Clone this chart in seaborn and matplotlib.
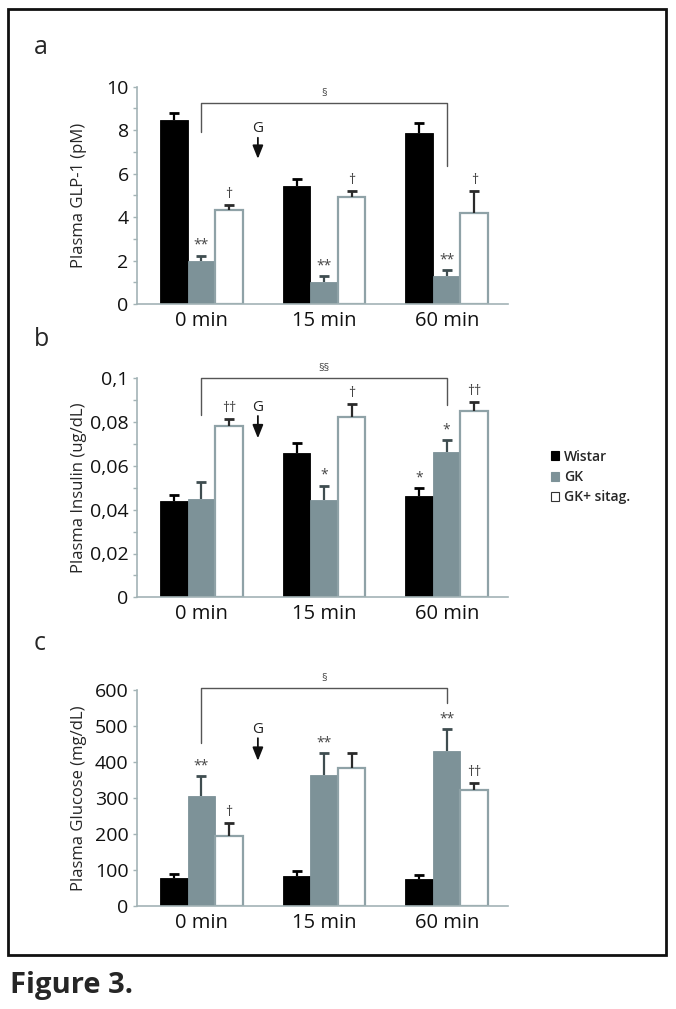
import matplotlib
matplotlib.use("Agg")
import matplotlib.pyplot as plt
from matplotlib.patches import Patch, Rectangle
from matplotlib.ticker import MultipleLocator, FixedLocator
import numpy as np
import pandas as pd
import seaborn as sns

# ---- data ---------------------------------------------------------------
times = ["0 min", "15 min", "60 min"]
groups = ["Wistar", "GK", "GK+ sitag."]

glp1_wistar = [8.47, 5.44, 7.89]
glp1_gk = [2.00, 1.01, 1.30]
glp1_sitag = [4.33, 4.91, 4.21]
glp1_err_wistar = [0.33, 0.29, 0.46]
glp1_err_gk = [0.22, 0.26, 0.27]
glp1_err_sitag = [0.23, 0.31, 1.01]

ins_wistar = [0.0440, 0.0660, 0.0464]
ins_gk = [0.0450, 0.0444, 0.0665]
ins_sitag = [0.0781, 0.0822, 0.0851]
ins_err_wistar = [0.0029, 0.0043, 0.0036]
ins_err_gk = [0.0077, 0.0066, 0.0053]
ins_err_sitag = [0.0032, 0.0062, 0.0042]

glu_wistar = [78, 83, 75]
glu_gk = [306, 364, 430]
glu_sitag = [195, 383, 322]
glu_err_wistar = [9, 13, 10]
glu_err_gk = [55, 60, 61]
glu_err_sitag = [36, 41, 20]

# significance marks: (group index, time index) -> symbol
glp1_marks = {(1, 0): "**", (2, 0): "\u2020", (1, 1): "**", (2, 1): "\u2020",
              (1, 2): "**", (2, 2): "\u2020"}
ins_marks = {(2, 0): "\u2020\u2020", (1, 1): "*", (2, 1): "\u2020",
             (0, 2): "*", (1, 2): "*", (2, 2): "\u2020\u2020"}
glu_marks = {(1, 0): "**", (2, 0): "\u2020", (1, 1): "**", (1, 2): "**",
             (2, 2): "\u2020\u2020"}

# bracket (top, left leg end, right leg end, label), G arrow (text y, start, end)
glp1_bracket = (9.25, 7.9, 6.36, "\u00a7")
ins_bracket = (0.100, 0.0832, 0.0878, "\u00a7\u00a7")
glu_bracket = (605, 453, 563, "\u00a7")
glp1_arrow = (8.07, 7.65, 6.68)
ins_arrow = (0.0868, 0.0828, 0.0726)
glu_arrow = (489, 466, 403)

# ---- style ----------------------------------------------------------------
sns.set_style("ticks")
plt.rcParams["font.family"] = ["Open Sans", "DejaVu Sans"]

SPINE = "#a3b3b6"
FILL = ["#000000", "#7d9298", "#ffffff"]
EDGE = ["#000000", "#7d9298", "#8fa2a7"]
ERRC = ["#000000", "#3f4d50", "#2a2a2a"]
MARKC = "#444444"

W, H = 676, 1009
fig = plt.figure(figsize=(W / 100, H / 100), dpi=100)

ax_left, ax_right = 137, 508


def make_ax(top_px, bottom_px):
    return fig.add_axes([ax_left / W, 1 - bottom_px / H,
                         (ax_right - ax_left) / W, (bottom_px - top_px) / H])


def draw_panel(ax, vals, errs, marks, bracket, arrow, ylim, major, minor,
               ylabel, ticklabels=None):
    df = pd.DataFrame({
        "time": times * 3,
        "group": [g for g in groups for _ in times],
        "value": [v for series in vals for v in series],
    })
    sns.barplot(data=df, x="time", y="value", hue="group", order=times,
                hue_order=groups, palette=FILL, width=0.675, dodge=True,
                errorbar=None, legend=False, ax=ax, saturation=1)

    centers = {}
    tops = {}
    bar_containers = list(ax.containers)
    for gi, cont in enumerate(bar_containers):
        xs, ys = [], []
        for ti, bar in enumerate(cont):
            bar.set_edgecolor(EDGE[gi])
            bar.set_linewidth(1.6 if gi == 2 else 0.6)
            cx = bar.get_x() + bar.get_width() / 2
            xs.append(cx)
            ys.append(bar.get_height())
            centers[(gi, ti)] = cx
            tops[(gi, ti)] = bar.get_height() + errs[gi][ti]
        _, caps, _ = ax.errorbar(xs, ys, yerr=[np.zeros(3), errs[gi]],
                                 fmt="none", ecolor=ERRC[gi], elinewidth=1.6,
                                 capsize=3.5, capthick=2, zorder=3)
        # only the upper cap, as in the original
        caps[0].set_visible(False)

    for (gi, ti), sym in marks.items():
        ax.annotate(sym, (centers[(gi, ti)], tops[(gi, ti)]),
                    xytext=(0, 2), textcoords="offset points",
                    ha="center", va="bottom", fontsize=10, color=MARKC)

    # bracket between GK at 0 min and GK at 60 min
    top, lleg, rleg, lab = bracket
    x0, x1 = centers[(1, 0)], centers[(1, 2)]
    ax.plot([x0, x0, x1, x1], [lleg, top, top, rleg], color="#555555",
            lw=1.0, clip_on=False)
    ax.annotate(lab, ((x0 + x1) / 2, top), xytext=(0, 3),
                textcoords="offset points", ha="center", va="bottom",
                fontsize=8, color="#444444", annotation_clip=False)

    # glucose load arrow between 0 and 15 min
    ty, a0, a1 = arrow
    gx = 0.46
    ax.text(gx, ty, "G", ha="center", va="center", fontsize=11, color="#222222")
    ax.annotate("", xy=(gx, a1), xytext=(gx, a0),
                arrowprops=dict(arrowstyle="-|>,head_length=0.8,head_width=0.32",
                                color="#111111", lw=1.3, shrinkA=0, shrinkB=0))

    ax.set_xlim(-0.526, 2.5)
    ax.set_ylim(*ylim)
    ax.yaxis.set_major_locator(MultipleLocator(major))
    if minor:
        ax.yaxis.set_minor_locator(MultipleLocator(minor))
    if ticklabels is not None:
        ax.yaxis.set_major_locator(FixedLocator(ticklabels[0]))
        ax.set_yticklabels(ticklabels[1])
    ax.set_xlabel("")
    ax.set_ylabel(ylabel, fontsize=12)
    ax.yaxis.set_label_coords(-0.135, 0.5)
    for s in ["top", "right"]:
        ax.spines[s].set_visible(False)
    for s in ["left", "bottom"]:
        ax.spines[s].set_color(SPINE)
        ax.spines[s].set_linewidth(1.2)
    ax.tick_params(axis="y", which="both", colors=SPINE, length=3, width=1,
                   labelcolor="#111111", labelsize=14, pad=3)
    ax.tick_params(axis="x", length=0, labelsize=14.5, labelcolor="#111111", pad=5)


ax_a = make_ax(86.7, 304)
draw_panel(ax_a, [glp1_wistar, glp1_gk, glp1_sitag],
           [glp1_err_wistar, glp1_err_gk, glp1_err_sitag], glp1_marks,
           glp1_bracket, glp1_arrow, (0, 10), 2, 1, "Plasma GLP-1 (pM)")

ax_b = make_ax(378.3, 597.3)
draw_panel(ax_b, [ins_wistar, ins_gk, ins_sitag],
           [ins_err_wistar, ins_err_gk, ins_err_sitag], ins_marks,
           ins_bracket, ins_arrow, (0, 0.1), 0.02, 0.01,
           "Plasma Insulin (ug/dL)",
           ticklabels=([0, 0.02, 0.04, 0.06, 0.08, 0.1],
                       ["0", "0,02", "0,04", "0,06", "0,08", "0,1"]))

ax_c = make_ax(690, 905.7)
draw_panel(ax_c, [glu_wistar, glu_gk, glu_sitag],
           [glu_err_wistar, glu_err_gk, glu_err_sitag], glu_marks,
           glu_bracket, glu_arrow, (0, 600), 100, None,
           "Plasma Glucose (mg/dL)")

# panel letters
for lab, ypx in [("a", 47), ("b", 340), ("c", 643)]:
    fig.text(34 / W, 1 - ypx / H, lab, fontsize=18, va="center", ha="left")

# legend
handles = [Patch(facecolor=FILL[i], edgecolor="#333333" if i == 2 else FILL[i],
                 linewidth=0.8) for i in range(3)]
fig.legend(handles, groups, loc="center left",
           bbox_to_anchor=(538 / W, 1 - 477 / H), frameon=False,
           handlelength=0.6, handleheight=0.6, handletextpad=0.4,
           labelspacing=0.45, prop={"size": 10, "weight": "semibold"})

# outer frame and caption
fig.add_artist(Rectangle((8 / W, 1 - 955 / H), (666 - 8) / W, (955 - 9) / H,
                         transform=fig.transFigure, fill=False,
                         edgecolor="#111111", linewidth=2))
fig.text(10 / W, 1 - 985 / H, "Figure 3.", fontsize=21, fontweight="bold",
         va="center", ha="left")

fig.savefig("out.png", dpi=100)
